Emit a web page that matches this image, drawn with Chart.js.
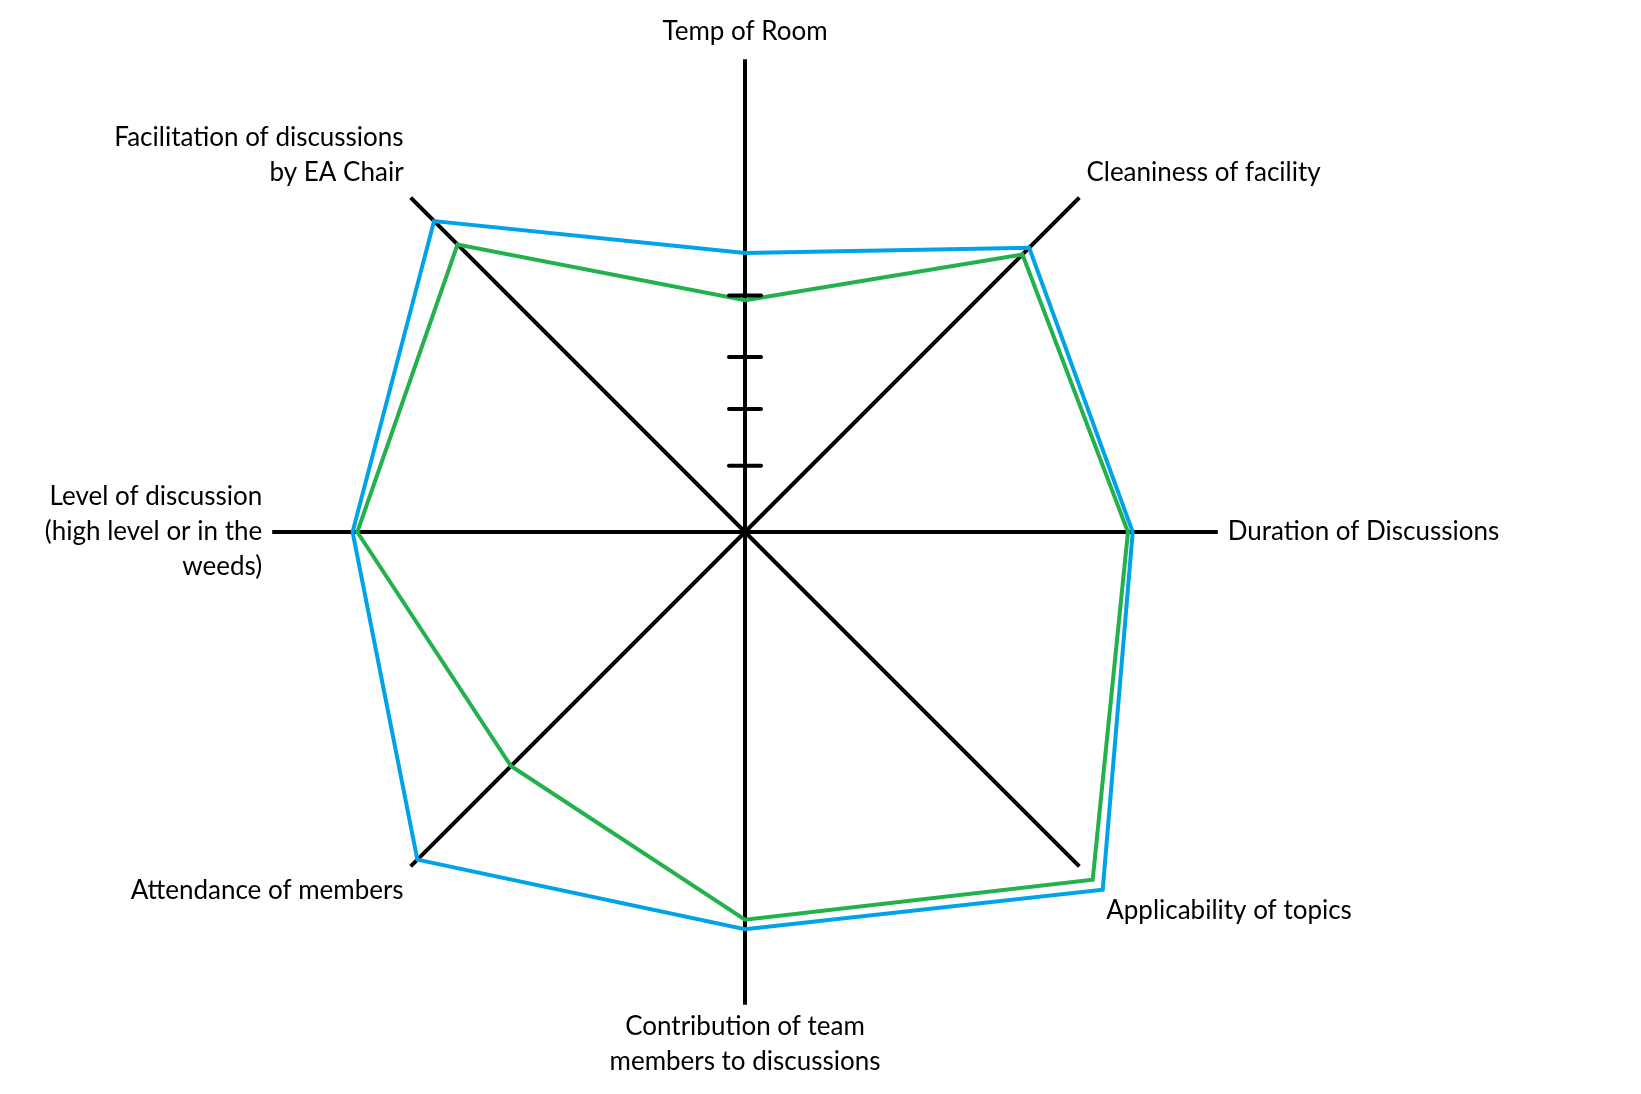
<!DOCTYPE html>
<html>
<head>
<meta charset="utf-8">
<script src="https://cdn.jsdelivr.net/npm/chart.js@4.4.1/dist/chart.umd.min.js"></script>
<style>
  html, body { margin: 0; padding: 0; background: #fff; }
  #wrap { width: 1641px; height: 1094px; }
</style>
</head>
<body>
<div id="wrap"><canvas id="radarChart"></canvas></div>
<script>
// categories, clockwise from the top
const categories = [
  'Temp of Room',
  'Cleaniness of facility',
  'Duration of Discussions',
  'Applicability of topics',
  ['Contribution of team', 'members to discussions'],
  'Attendance of members',
  ['Level of discussion', '(high level or in the', 'weeds)'],
  ['Facilitation of discussions', 'by EA Chair']
];

// scale 0..10
const blueValues  = [5.9, 8.5, 8.2, 10.7, 8.4, 9.8, 8.3, 9.3];
const greenValues = [4.9, 8.3, 8.1, 10.4, 8.2, 7.0, 8.2, 8.6];

// hand drawn tick marks on the top axis
const tickMarks = [1.4, 2.6, 3.7, 5.0];

const scaleMax = 10;

// short marks across the first axis
const tickMarkPlugin = {
  id: 'tickMarks',
  afterDatasetsDraw(chart) {
    const r = chart.scales.r;
    const c = chart.ctx;
    c.save();
    c.strokeStyle = '#000';
    c.lineWidth = 4;
    c.lineCap = 'round';
    tickMarks.forEach(v => {
      const p = r.getPointPositionForValue(0, v);
      c.beginPath();
      c.moveTo(p.x - 16, p.y);
      c.lineTo(p.x + 16, p.y);
      c.stroke();
    });
    c.restore();
  }
};

const ctx = document.getElementById('radarChart');

new Chart(ctx, {
  type: 'radar',
  data: {
    labels: categories,
    datasets: [{
      label: 'Blue',
      data: blueValues,
      borderColor: '#00a2e8',
      borderWidth: 4,
      fill: false,
      pointRadius: 0,
      tension: 0
    }, {
      label: 'Green',
      data: greenValues,
      borderColor: '#22b14c',
      borderWidth: 4,
      fill: false,
      pointRadius: 0,
      tension: 0
    }]
  },
  options: {
    responsive: true,
    maintainAspectRatio: false,
    animation: false,
    layout: {
      padding: { top: 0, bottom: 0, left: 0, right: 96 }
    },
    plugins: {
      legend: { display: false },
      tooltip: { enabled: false }
    },
    scales: {
      r: {
        min: 0,
        max: scaleMax,
        beginAtZero: true,
        ticks: { display: false, stepSize: 1 },
        grid: { display: false },
        angleLines: {
          display: true,
          color: '#000',
          lineWidth: 4
        },
        pointLabels: {
          color: '#000',
          padding: (c) => c.index === 3 ? 38 : (c.index === 4 ? 4 : 10),
          font: { family: 'Lato', size: 26, lineHeight: 1.35 }
        }
      }
    }
  },
  plugins: [tickMarkPlugin]
});
</script>
</body>
</html>
